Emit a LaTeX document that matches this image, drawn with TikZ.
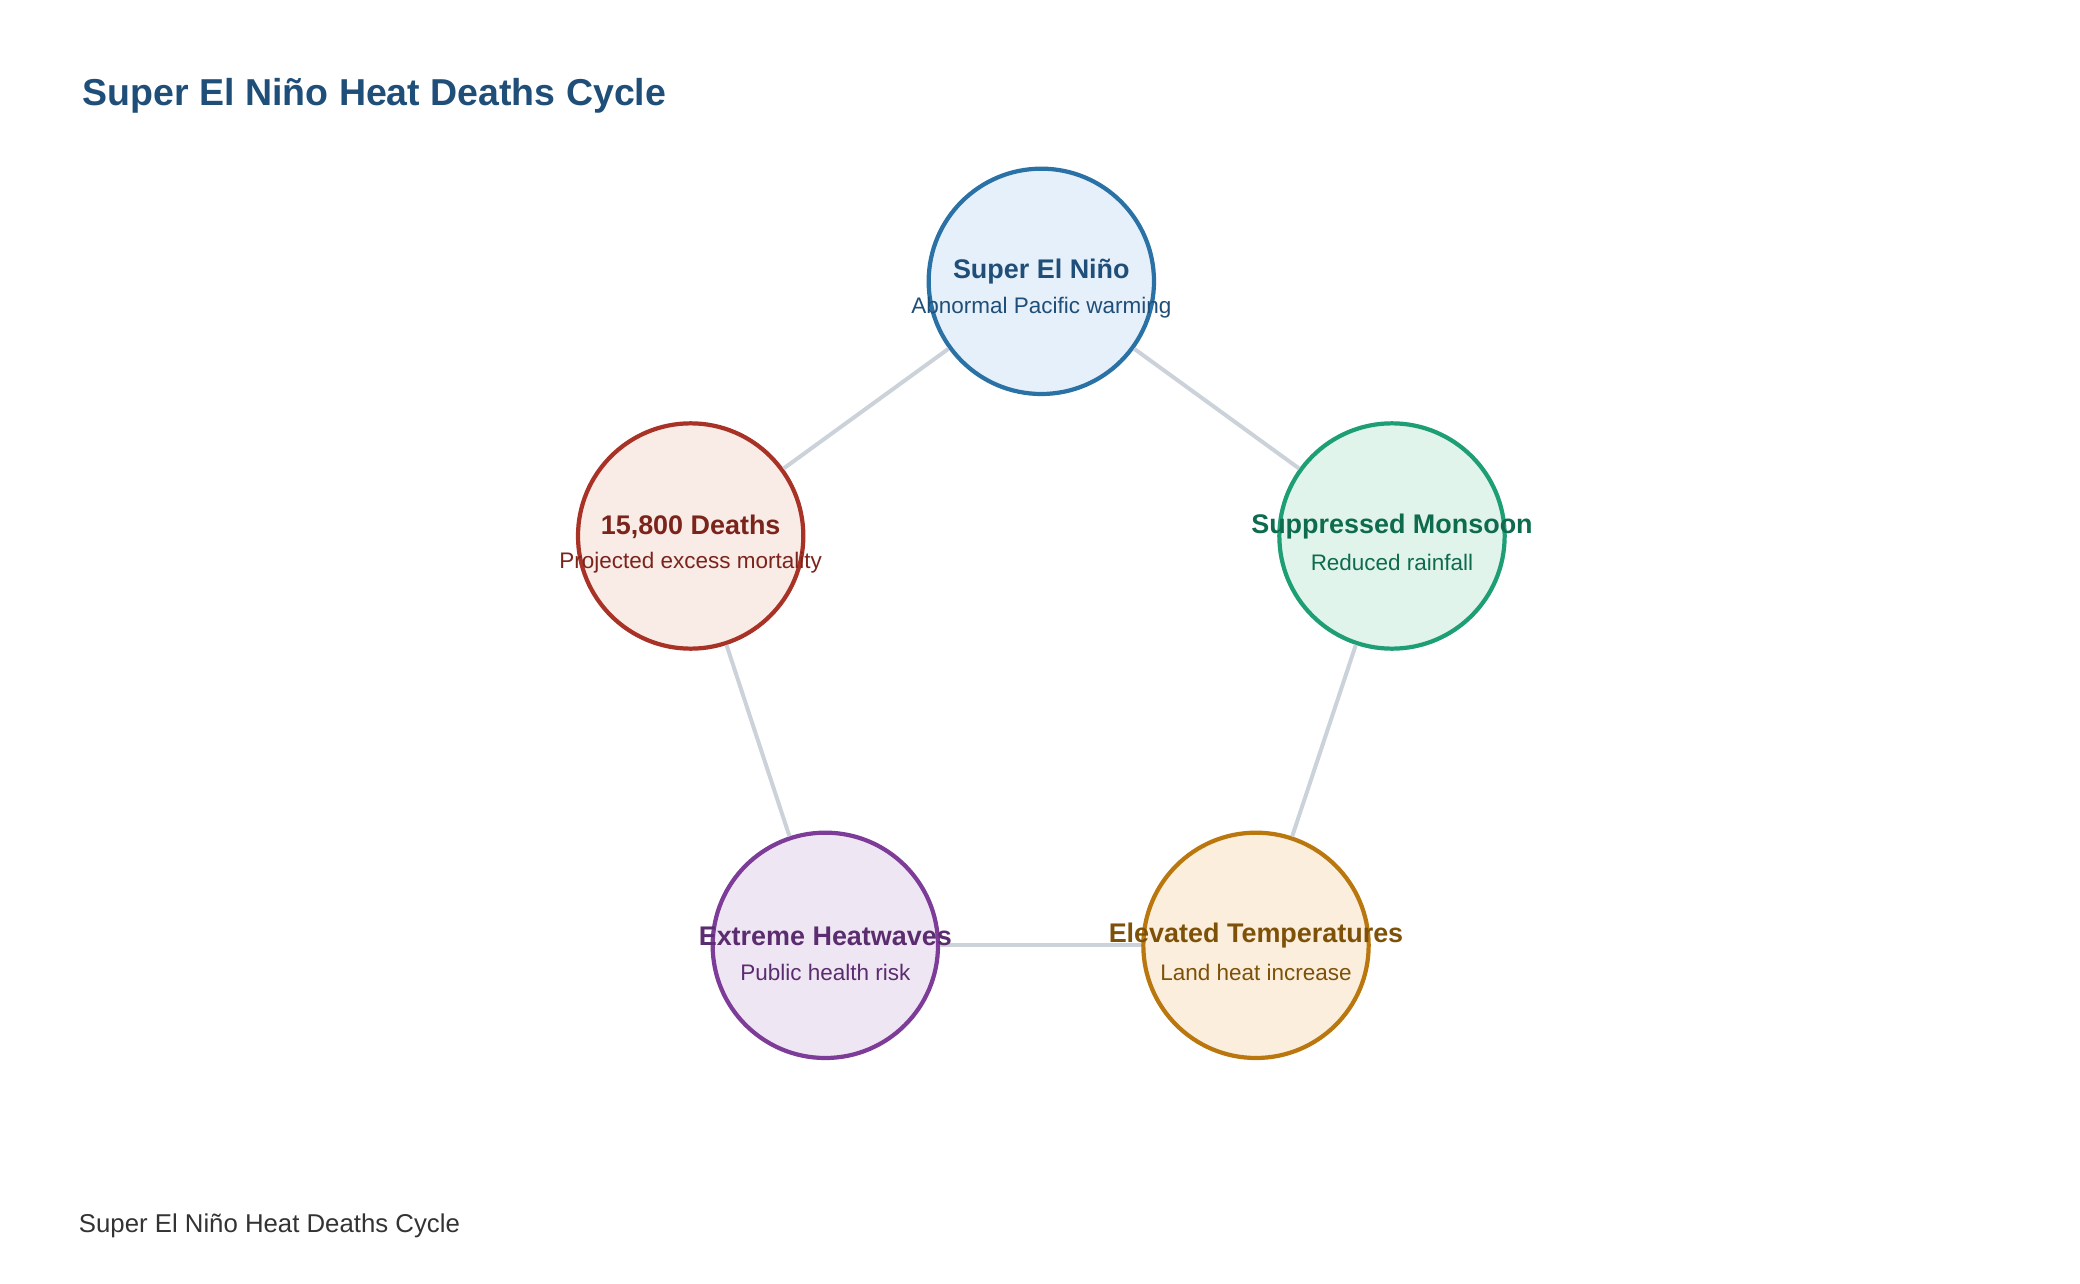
\documentclass[tikz,border=0pt]{standalone}
\usepackage{fontspec}
\setmainfont{Liberation Sans}
\begin{document}
\begin{tikzpicture}[x=0.02cm,y=-0.02cm,
  circ/.style={circle,minimum size=169*0.02cm,line width=1.8pt,inner sep=0pt},
  link/.style={draw=lk,line width=1.7pt},
  ttl/.style={font=\bfseries\fontsize{11.5}{13}\selectfont},
  sub/.style={font=\fontsize{9.6}{11}\selectfont}]
\definecolor{lk}{HTML}{CBD2DA}
\definecolor{bS}{HTML}{2A72A5}\definecolor{bF}{HTML}{E6F0FA}\definecolor{bT}{HTML}{1F4E79}
\definecolor{rS}{HTML}{A93226}\definecolor{rF}{HTML}{F9EBE6}\definecolor{rT}{HTML}{7B241C}
\definecolor{gS}{HTML}{1E9E74}\definecolor{gF}{HTML}{E1F4EC}\definecolor{gT}{HTML}{0E6B4E}
\definecolor{pS}{HTML}{7D3C98}\definecolor{pF}{HTML}{EFE6F4}\definecolor{pT}{HTML}{5B2C6F}
\definecolor{oS}{HTML}{B9770E}\definecolor{oF}{HTML}{FBEEDC}\definecolor{oT}{HTML}{7E5109}
\useasboundingbox (0,0) rectangle (1560,963);
\node[anchor=west,text=bT,font=\bfseries\fontsize{16}{19}\selectfont] (title) at (56,72) {Super El Niño Heat Deaths Cycle};
\node[anchor=west,text=black!80,font=\fontsize{11}{13}\selectfont] (foot) at (53,919) {Super El Niño Heat Deaths Cycle};
\node[circ,draw=bS,fill=bF] (a) at (781,211) {};
\node[circ,draw=gS,fill=gF] (b) at (1044,402) {};
\node[circ,draw=oS,fill=oF] (c) at (942,709) {};
\node[circ,draw=pS,fill=pF] (d) at (619,709) {};
\node[circ,draw=rS,fill=rF] (e) at (518,402) {};
\begin{scope}[on background layer/.style={}]
\end{scope}
\draw[link] (a) -- (b); \draw[link] (b) -- (c); \draw[link] (c) -- (d);
\draw[link] (d) -- (e); \draw[link] (e) -- (a);
\node[ttl,text=bT] (at) at (781,204) {Super El Niño};
\node[sub,text=bT] (as) at (781,231) {Abnormal Pacific warming};
\node[ttl,text=gT] (bt) at (1044,395) {Suppressed Monsoon};
\node[sub,text=gT] (bs) at (1044,422) {Reduced rainfall};
\node[ttl,text=oT] (ct) at (942,702) {Elevated Temperatures};
\node[sub,text=oT] (cs) at (942,729) {Land heat increase};
\node[ttl,text=pT] (dt) at (619,702) {Extreme Heatwaves};
\node[sub,text=pT] (ds) at (619,729) {Public health risk};
\node[ttl,text=rT] (et) at (518,395) {15,800 Deaths};
\node[sub,text=rT] (es) at (518,422) {Projected excess mortality};
\end{tikzpicture}
\end{document}
